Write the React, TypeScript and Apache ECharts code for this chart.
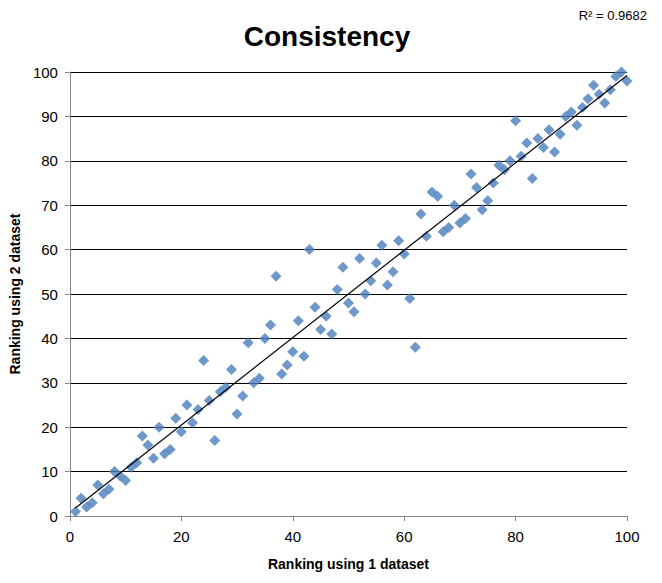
import React, { useEffect, useRef } from "react";
import * as echarts from "echarts";

const xValues = [1,2,3,4,5,6,7,8,9,10,11,12,13,14,15,16,17,18,19,20,21,22,23,24,25,26,27,28,29,30,31,32,33,34,35,36,37,38,39,40,41,42,43,44,45,46,47,48,49,50,51,52,53,54,55,56,57,58,59,60,61,62,63,64,65,66,67,68,69,70,71,72,73,74,75,76,77,78,79,80,81,82,83,84,85,86,87,88,89,90,91,92,93,94,95,96,97,98,99,100];
const yValues = [1,4,2,3,7,5,6,10,9,8,11,12,18,16,13,20,14,15,22,19,25,21,24,35,26,17,28,29,33,23,27,39,30,31,40,43,54,32,34,37,44,36,60,47,42,45,41,51,56,48,46,58,50,53,57,61,52,55,62,59,49,38,68,63,73,72,64,65,70,66,67,77,74,69,71,75,79,78,80,89,81,84,76,85,83,87,82,86,90,91,88,92,94,97,95,93,96,99,100,98];

const titleText = "Consistency";
const r2Text = "R² = 0.9682";
const xAxisName = "Ranking using 1 dataset";
const yAxisName = "Ranking using 2 dataset";

function fit(xs: number[], ys: number[]) {
  const n = xs.length;
  const mx = xs.reduce((a, b) => a + b, 0) / n;
  const my = ys.reduce((a, b) => a + b, 0) / n;
  let sxy = 0, sxx = 0;
  for (let i = 0; i < n; i++) {
    sxy += (xs[i] - mx) * (ys[i] - my);
    sxx += (xs[i] - mx) * (xs[i] - mx);
  }
  const b = sxy / sxx;
  return { a: my - b * mx, b };
}

export default function App() {
  const ref = useRef<HTMLDivElement>(null);
  useEffect(() => {
    if (!ref.current) return;
    const chart = echarts.init(ref.current, undefined, { renderer: "svg" });
    const { a, b } = fit(xValues, yValues);
    const xMin = Math.min(...xValues);
    const xMax = Math.max(...xValues);
    const font = "Liberation Sans, Arial, sans-serif";
    chart.setOption({
      animation: false,
      backgroundColor: "#ffffff",
      textStyle: { fontFamily: font },
      title: [
        {
          text: titleText,
          left: 322,
          top: 17,
          textAlign: "center",
          textStyle: { fontSize: 28, fontWeight: "bold", color: "#000", fontFamily: font },
        },
        {
          text: r2Text,
          right: 10,
          top: 4,
          textStyle: { fontSize: 13, fontWeight: "normal", color: "#000", fontFamily: font },
        },
      ],
      grid: { left: 68, right: 35, top: 72, bottom: 67, containLabel: false },
      xAxis: {
        type: "value",
        min: 0,
        max: 100,
        interval: 20,
        name: xAxisName,
        nameLocation: "middle",
        nameGap: 41,
        nameTextStyle: { fontSize: 14, fontWeight: "bold", color: "#000", fontFamily: font },
        axisLine: { show: true, lineStyle: { color: "#868686", width: 1 } },
        axisTick: { show: true, length: 5, lineStyle: { color: "#868686" } },
        axisLabel: { fontSize: 15, color: "#000", margin: 13, fontFamily: font },
        splitLine: { show: false },
      },
      yAxis: {
        type: "value",
        min: 0,
        max: 100,
        interval: 10,
        name: yAxisName,
        nameLocation: "middle",
        nameGap: 45,
        nameTextStyle: { fontSize: 14, fontWeight: "bold", color: "#000", fontFamily: font },
        axisLine: { show: true, lineStyle: { color: "#868686", width: 1 } },
        axisTick: { show: true, length: 5, lineStyle: { color: "#868686" } },
        axisLabel: { fontSize: 15, color: "#000", margin: 12, fontFamily: font },
        splitLine: { show: true, lineStyle: { color: "#000", width: 1 } },
      },
      series: [
        {
          type: "scatter",
          symbol: "diamond",
          symbolSize: 11,
          itemStyle: { color: "#4A7EBB" },
          data: xValues.map((x, i) => [x, yValues[i]]),
          z: 2,
        },
        {
          type: "line",
          symbol: "none",
          lineStyle: { color: "#000", width: 1.2 },
          data: [
            [xMin, a + b * xMin],
            [xMax, a + b * xMax],
          ],
          z: 3,
        },
      ],
    });
    return () => chart.dispose();
  }, []);
  return (
    <div
      ref={ref}
      style={{ position: "absolute", left: 0, top: 0, width: 662, height: 583 }}
    />
  );
}
